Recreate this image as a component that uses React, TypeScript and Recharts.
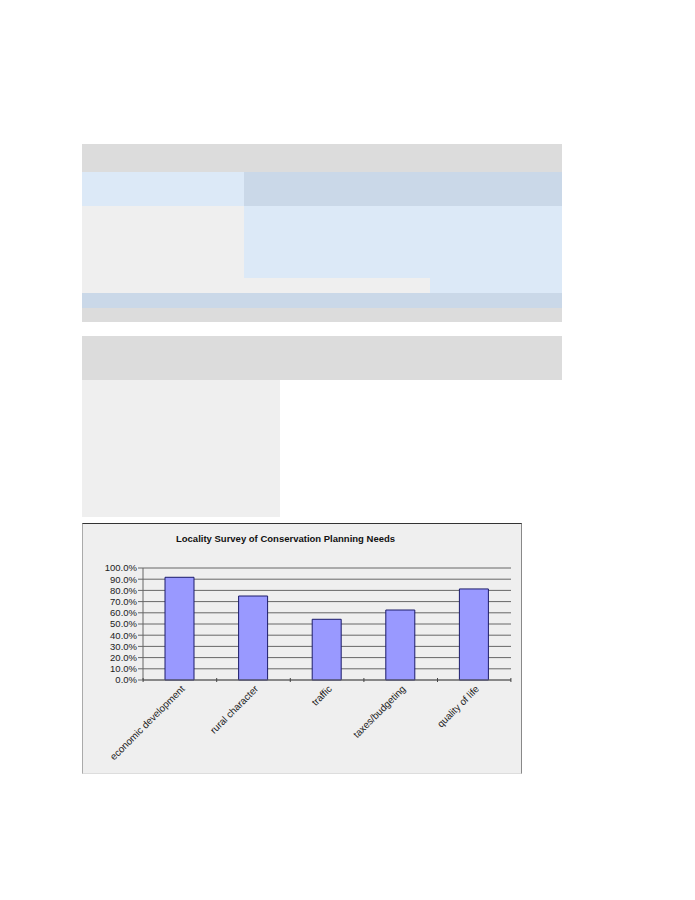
import { BarChart, Bar, XAxis, YAxis, CartesianGrid } from 'recharts';

const categories = ['economic development', 'rural character', 'traffic', 'taxes/budgeting', 'quality of life'];
const shares = [91.7, 75.0, 54.2, 62.5, 81.3];
const yTicks = [0, 10, 20, 30, 40, 50, 60, 70, 80, 90, 100];

const data = categories.map((name, i) => ({ name, value: shares[i] }));

const PLOT_W = 367;
const BAND = PLOT_W / categories.length;

const block = (left: number, top: number, width: number, height: number, background: string) => (
  <div style={{ position: 'absolute', left, top, width, height, background }} />
);

const CategoryTick = (props: any) => {
  const { x, y, payload, index } = props;
  const last = index === categories.length - 1;
  return (
    <g>
      <line x1={x - BAND / 2} y1={y - 8} x2={x - BAND / 2} y2={y - 4} stroke="#444" />
      {last && <line x1={x + BAND / 2} y1={y - 8} x2={x + BAND / 2} y2={y - 4} stroke="#444" />}
      <text
        x={x + 2}
        y={y}
        transform={`rotate(-45 ${x + 2} ${y})`}
        textAnchor="end"
        fontSize={9.8}
        fill="#222"
        dy={5}
      >
        {payload.value}
      </text>
    </g>
  );
};

export default function App() {
  return (
    <div style={{ position: 'absolute', left: 0, top: 0, width: 695, height: 900, background: '#fff', fontFamily: '"Liberation Sans", Arial, sans-serif' }}>
      {block(82, 144, 480, 28, '#dcdcdc')}
      {block(82, 172, 162, 34, '#dce9f7')}
      {block(244, 172, 318, 34, '#cad8e8')}
      {block(82, 206, 162, 87, '#efefef')}
      {block(244, 206, 318, 72, '#dce9f7')}
      {block(244, 278, 186, 15, '#efefef')}
      {block(430, 278, 132, 15, '#dce9f7')}
      {block(82, 293, 480, 15, '#cad8e8')}
      {block(82, 308, 480, 14, '#dcdcdc')}
      {block(82, 336, 480, 44, '#dcdcdc')}
      {block(82, 380, 198, 137, '#efefef')}

      <div
        style={{
          position: 'absolute',
          left: 82,
          top: 523,
          width: 438,
          height: 249,
          background: '#efefef',
          borderTop: '1px solid #333',
          borderLeft: '1px solid #aaa',
          borderRight: '1px solid #888',
          borderBottom: '1px solid #ddd',
        }}
      >
        <div
          style={{
            position: 'absolute',
            left: 0,
            width: 405,
            top: 9,
            textAlign: 'center',
            fontSize: 9.5,
            fontWeight: 'bold',
            color: '#111',
          }}
        >
          Locality Survey of Conservation Planning Needs
        </div>
        <BarChart
          width={438}
          height={249}
          data={data}
          margin={{ top: 44, right: 10, bottom: 0, left: 0 }}
        >
          <CartesianGrid vertical={false} stroke="#444" strokeWidth={0.8} />
          <YAxis
            type="number"
            domain={[0, 100]}
            ticks={yTicks}
            interval={0}
            width={60}
            tickSize={5}
            tickMargin={1}
            axisLine={{ stroke: '#666' }}
            tickLine={{ stroke: '#666' }}
            tick={{ fontSize: 9.5, fill: '#222' }}
            tickFormatter={(v: number) => `${v.toFixed(1)}%`}
          />
          <XAxis
            dataKey="name"
            height={93}
            interval={0}
            tickLine={false}
            axisLine={{ stroke: '#666' }}
            tick={<CategoryTick />}
            tickMargin={0}
          />
          <Bar dataKey="value" fill="#9999ff" stroke="#1c1c6b" strokeWidth={1} barSize={29} isAnimationActive={false} />
        </BarChart>
      </div>
    </div>
  );
}
